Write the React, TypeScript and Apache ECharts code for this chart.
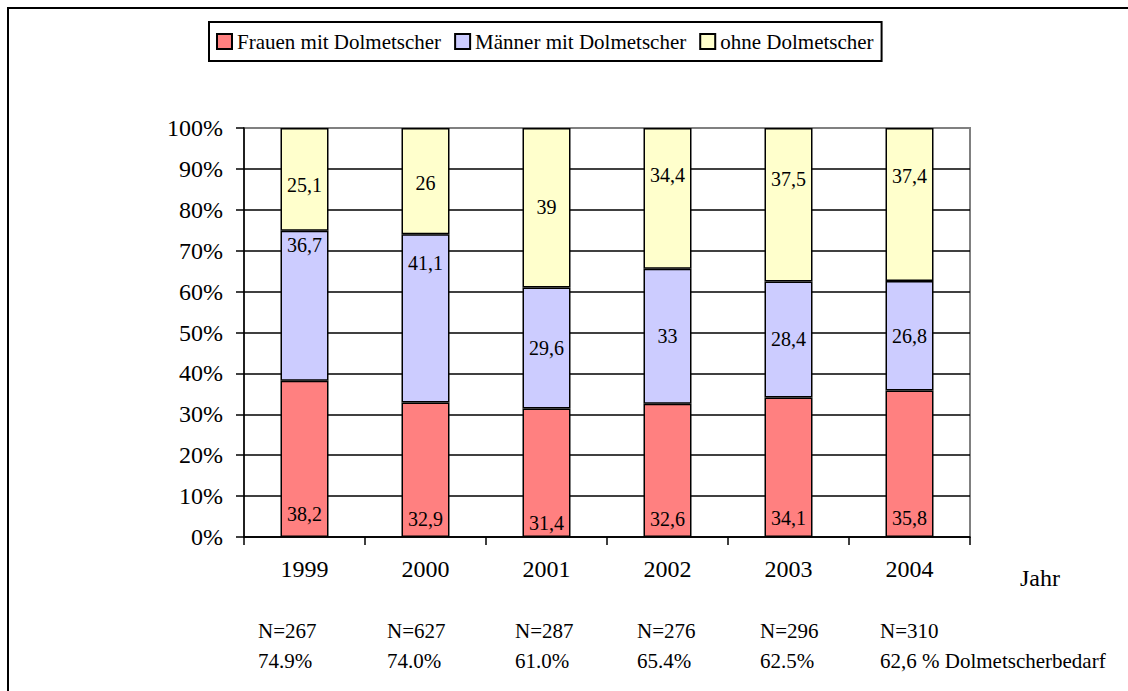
import React, { useEffect, useRef } from "react";
import * as echarts from "echarts";

const categories = ["1999", "2000", "2001", "2002", "2003", "2004"];
const frauen = [38.2, 32.9, 31.4, 32.6, 34.1, 35.8];
const maenner = [36.7, 41.1, 29.6, 33, 28.4, 26.8];
const ohne = [25.1, 26, 39, 34.4, 37.5, 37.4];
const nLabels = ["N=267", "N=627", "N=287", "N=276", "N=296", "N=310"];
const bedarfLabels = ["74.9%", "74.0%", "61.0%", "65.4%", "62.5%", "62,6 % Dolmetscherbedarf"];
const seriesNames = ["Frauen mit Dolmetscher", "Männer mit Dolmetscher", "ohne Dolmetscher"];

// layout only (label nudges, text x positions)
const frauenShift = [-5, 0, 4, 0, -1, -1];
const maennerShift = [-61, -55, 0, 0, 0, 0];
const ohneShift = [6, 2, -1, -23, -26, -28];
const bottomX = [258, 387, 515, 637, 760, 880];

const FONT = "Liberation Serif";
const fmt = (p: any) => String(p.value).replace(".", ",");

export default function App() {
  const ref = useRef<HTMLDivElement>(null);
  useEffect(() => {
    const chart = echarts.init(ref.current!, null, { renderer: "svg" });
    const mk = (vals: number[], shifts: number[]) =>
      vals.map((v, i) => ({ value: v, label: { offset: [0, shifts[i]] } }));
    const baseSeries = {
      type: "bar",
      stack: "all",
      barWidth: 48,
      itemStyle: { borderColor: "#000", borderWidth: 1.5 },
      label: {
        show: true,
        formatter: fmt,
        fontFamily: FONT,
        fontSize: 20,
        color: "#000",
      },
    };
    const txt = (x: number, y: number, text: string, size: number) => ({
      type: "text",
      x,
      y,
      style: {
        text,
        fontFamily: FONT,
        fontSize: size,
        fill: "#000",
        verticalAlign: "middle",
      },
    });
    const graphics: any[] = [
      {
        type: "rect",
        shape: { x: 8, y: 8, width: 1300, height: 900 },
        style: { fill: "none", stroke: "#000", lineWidth: 2 },
        silent: true,
      },
      txt(1020, 578, "Jahr", 24),
    ];
    nLabels.forEach((t, i) => graphics.push(txt(bottomX[i], 631, t, 21)));
    bedarfLabels.forEach((t, i) => graphics.push(txt(bottomX[i], 661, t, 21)));
    chart.setOption({
      animation: false,
      backgroundColor: "#fff",
      textStyle: { fontFamily: FONT, color: "#000" },
      color: ["#FF8080", "#CCCCFF", "#FFFFCC"],
      legend: {
        left: 209,
        top: 22,
        padding: [9, 8, 9, 7],
        borderColor: "#000",
        borderWidth: 2,
        itemGap: 13,
        itemWidth: 15,
        itemHeight: 15,
        icon: "rect",
        textStyle: { fontFamily: FONT, fontSize: 21, color: "#000" },
        data: seriesNames,
      },
      grid: {
        left: 244,
        top: 128,
        width: 726,
        height: 409,
        show: true,
        borderColor: "#808080",
        borderWidth: 2,
      },
      xAxis: {
        type: "category",
        data: categories,
        axisLine: { lineStyle: { color: "#000", width: 1.5 } },
        axisTick: { show: true, length: 8, lineStyle: { color: "#000", width: 1.5 } },
        axisLabel: { fontFamily: FONT, fontSize: 24, color: "#000", margin: 20 },
      },
      yAxis: {
        type: "value",
        min: 0,
        max: 100,
        interval: 10,
        axisLine: { show: true, lineStyle: { color: "#000", width: 1.5 } },
        axisTick: { show: true, length: 8, lineStyle: { color: "#000", width: 1.5 } },
        axisLabel: { formatter: "{value}%", fontFamily: FONT, fontSize: 24, color: "#000", margin: 21 },
        splitLine: { show: true, showMaxLine: false, lineStyle: { color: "#000", width: 1.5 } },
      },
      series: [
        {
          ...baseSeries,
          name: seriesNames[0],
          data: mk(frauen, frauenShift),
          label: { ...baseSeries.label, position: "insideBottom", distance: 8 },
        },
        {
          ...baseSeries,
          name: seriesNames[1],
          data: mk(maenner, maennerShift),
          label: { ...baseSeries.label, position: "inside" },
        },
        {
          ...baseSeries,
          name: seriesNames[2],
          data: mk(ohne, ohneShift),
          label: { ...baseSeries.label, position: "inside" },
        },
      ],
      graphic: graphics,
    });
    return () => chart.dispose();
  }, []);
  return (
    <div
      ref={ref}
      style={{ position: "fixed", left: 0, top: 0, width: 1128, height: 691 }}
    />
  );
}
